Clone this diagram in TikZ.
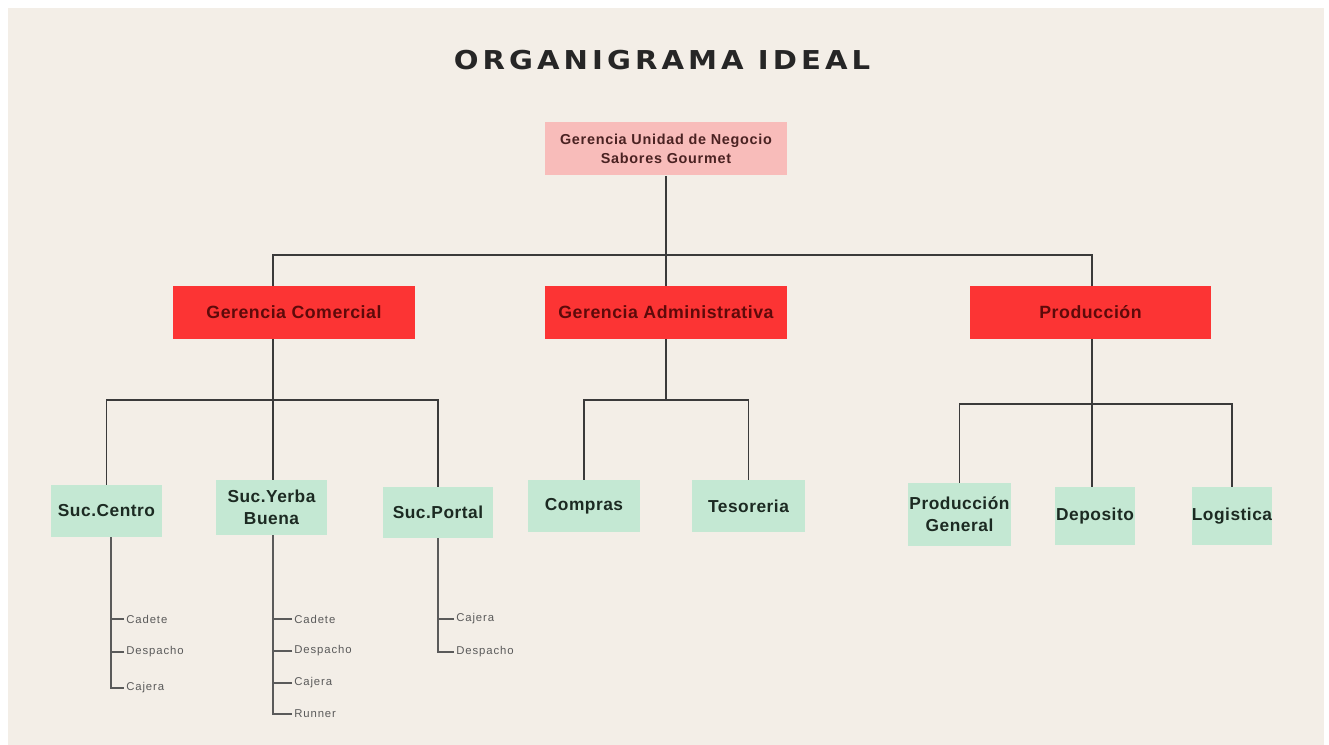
\documentclass[tikz,border=0pt]{standalone}
\usepackage{fontspec}
\setmainfont{Liberation Sans}
\newfontfamily\titlefont[LetterSpace=14]{DejaVu Sans}
\newfontfamily\boxfont[LetterSpace=3]{Liberation Sans}
\newfontfamily\topfont[LetterSpace=5]{Liberation Sans}
\newfontfamily\itemfont[LetterSpace=8]{Liberation Sans}
\definecolor{bg}{HTML}{F3EEE7}
\definecolor{pinkbox}{HTML}{F8BCBA}
\definecolor{redbox}{HTML}{FC3434}
\definecolor{greenbox}{HTML}{C4E8D3}
\definecolor{linec}{HTML}{3A3A3A}
\definecolor{subc}{HTML}{5A5A5A}
\definecolor{redtext}{HTML}{5E0A0A}
\definecolor{pinktext}{HTML}{4A2222}
\definecolor{greentext}{HTML}{1C2A22}
\begin{document}
\begin{tikzpicture}[x=0.75pt,y=-0.75pt,
  basebox/.style={inner sep=0pt,align=center,font=\boxfont\bfseries},
  topbox/.style={basebox,fill=pinkbox,text=pinktext,font=\topfont\bfseries\fontsize{10.8}{14}\selectfont},
  redb/.style={basebox,fill=redbox,text=redtext,font=\boxfont\bfseries\fontsize{13.3}{15}\selectfont},
  greenb/.style={basebox,fill=greenbox,text=greentext,font=\boxfont\bfseries\fontsize{13}{16.5}\selectfont},
  item/.style={anchor=west,inner sep=1.5pt,text=subc,font=\itemfont\fontsize{8.5}{10}\selectfont},
  conn/.style={draw=linec,line width=1.3pt},
  sub/.style={draw=subc,line width=1.1pt},
  title/.style={font=\titlefont\bfseries\fontsize{19.5}{24}\selectfont,text=black!85}
]
\useasboundingbox (0,0) rectangle (1329,745);
\fill[white] (0,0) rectangle (1329,745);
\fill[bg] (8,8) rectangle (1324,745);

\node[title] (title) at (662,60) {\scalebox{1.12}[1]{ORGANIGRAMA IDEAL}};

\node[topbox,minimum width={242*0.75pt},minimum height={53*0.75pt}] (top) at (666,149) {Gerencia Unidad de Negocio\\Sabores Gourmet};

\node[redb,minimum width={242*0.75pt},minimum height={53*0.75pt}] (gc) at (294,312.5) {Gerencia Comercial};
\node[redb,minimum width={242*0.75pt},minimum height={53*0.75pt}] (ga) at (666,312.5) {Gerencia Administrativa};
\node[redb,minimum width={241*0.75pt},minimum height={53*0.75pt}] (pr) at (1090.5,312.5) {Producción};

\node[greenb,minimum width={111*0.75pt},minimum height={52*0.75pt}] (sc) at (106.5,511) {Suc.Centro};
\node[greenb,minimum width={111*0.75pt},minimum height={55*0.75pt}] (sy) at (271.5,507.5) {Suc.Yerba\\Buena};
\node[greenb,minimum width={110*0.75pt},minimum height={51*0.75pt}] (sp) at (438,512.5) {Suc.Portal};
\node[greenb,minimum width={112*0.75pt},minimum height={52*0.75pt}] (co) at (584,506) {Compras};
\node[greenb,minimum width={113*0.75pt},minimum height={52*0.75pt}] (te) at (748.5,506) {Tesoreria};
\node[greenb,minimum width={103*0.75pt},minimum height={63*0.75pt}] (pg) at (959.5,514.5) {Producción\\General};
\node[greenb,minimum width={80*0.75pt},minimum height={58*0.75pt}] (de) at (1095,516) {Deposito};
\node[greenb,minimum width={80*0.75pt},minimum height={58*0.75pt}] (lo) at (1232,516) {Logistica};

% junctions
\coordinate (j0) at (666,255);
\coordinate (j1) at (273,400);
\coordinate (j2) at (666,400);
\coordinate (j3) at (1092,404);

\draw[conn] (top.south) -- (j0);
\draw[conn] (gc.north -| j1) |- (j0) -| (pr.north -| j3);
\draw[conn] (j0) -- (ga.north);

\draw[conn] (gc.south -| j1) -- (j1);
\draw[conn] (sc.north) |- (j1) -| (sp.north);
\draw[conn] (j1) -- (sy.north -| j1);

\draw[conn] (ga.south) -- (j2);
\draw[conn] (co.north) |- (j2) -| (te.north);

\draw[conn] (pr.south -| j3) -- (j3);
\draw[conn] (pg.north) |- (j3) -| (lo.north);
\draw[conn] (j3) -- (de.north -| j3);

% sub lists
\coordinate (vsc) at (111,537);
\coordinate (vsy) at (273,535);
\coordinate (vsp) at (438,538);

\node[item] (sc1) at (124,619) {Cadete};
\node[item] (sc2) at (124,652) {Despacho};
\node[item] (sc3) at (124,688) {Cajera};
\draw[sub] (vsc) |- (sc3.west);
\draw[sub] (sc1.west) -- (sc1.west -| vsc);
\draw[sub] (sc2.west) -- (sc2.west -| vsc);

\node[item] (sy1) at (292,619) {Cadete};
\node[item] (sy2) at (292,651) {Despacho};
\node[item] (sy3) at (292,683) {Cajera};
\node[item] (sy4) at (292,714) {Runner};
\draw[sub] (vsy) |- (sy4.west);
\draw[sub] (sy1.west) -- (sy1.west -| vsy);
\draw[sub] (sy2.west) -- (sy2.west -| vsy);
\draw[sub] (sy3.west) -- (sy3.west -| vsy);

\node[item] (sp1) at (454,619) {Cajera};
\node[item] (sp2) at (454,652) {Despacho};
\draw[sub] (vsp) |- (sp2.west);
\draw[sub] (sp1.west) -- (sp1.west -| vsp);
\end{tikzpicture}
\end{document}
